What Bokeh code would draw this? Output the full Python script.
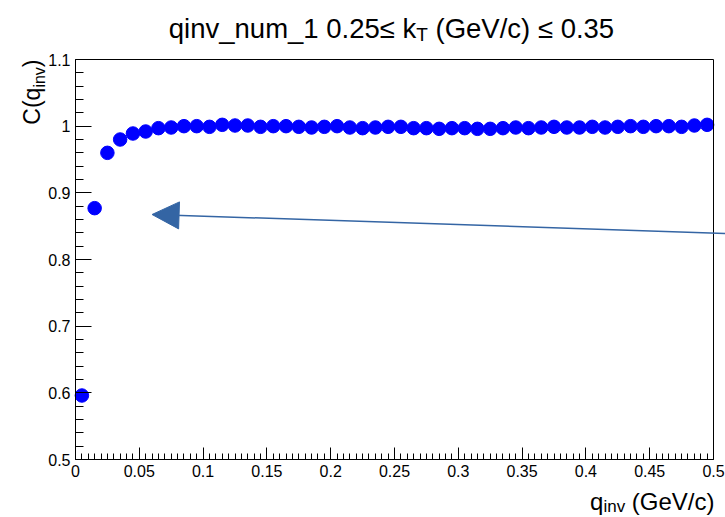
import numpy as np
from bokeh.plotting import figure
from bokeh.models import Label, Arrow, NormalHead, FixedTicker, Range1d, LinearAxis
from bokeh.embed import file_html
from bokeh.resources import INLINE

# ---------------- data ----------------
q_inv = [0.005, 0.015, 0.025, 0.035, 0.045, 0.055, 0.065, 0.075, 0.085, 0.095,
         0.105, 0.115, 0.125, 0.135, 0.145, 0.155, 0.165, 0.175, 0.185, 0.195,
         0.205, 0.215, 0.225, 0.235, 0.245, 0.255, 0.265, 0.275, 0.285, 0.295,
         0.305, 0.315, 0.325, 0.335, 0.345, 0.355, 0.365, 0.375, 0.385, 0.395,
         0.405, 0.415, 0.425, 0.435, 0.445, 0.455, 0.465, 0.475, 0.485, 0.495]
c_q = [0.596, 0.877, 0.960, 0.980, 0.989, 0.992, 0.997, 0.998, 1.000, 1.000,
       0.999, 1.002, 1.001, 1.001, 0.999, 1.000, 1.000, 0.999, 0.998, 0.999,
       1.000, 0.998, 0.997, 0.998, 0.999, 0.999, 0.997, 0.997, 0.996, 0.997,
       0.997, 0.996, 0.996, 0.997, 0.998, 0.997, 0.998, 0.999, 0.998, 0.998,
       0.999, 0.998, 0.999, 1.000, 0.999, 1.000, 1.000, 0.999, 1.001, 1.002]
c_err = [0.006, 0.008, 0.008, 0.008, 0.008, 0.008, 0.008, 0.008, 0.008, 0.008,
         0.008, 0.008, 0.008, 0.008, 0.008, 0.008, 0.008, 0.008, 0.008, 0.008,
         0.008, 0.008, 0.008, 0.008, 0.008, 0.008, 0.008, 0.008, 0.008, 0.008,
         0.008, 0.008, 0.008, 0.008, 0.008, 0.008, 0.008, 0.008, 0.008, 0.008,
         0.008, 0.008, 0.008, 0.008, 0.008, 0.008, 0.008, 0.008, 0.008, 0.008]
bin_half_width = 0.005

x_ticks = [0.0, 0.05, 0.1, 0.15, 0.2, 0.25, 0.3, 0.35, 0.4, 0.45, 0.5]
x_tick_labels = ["0", "0.05", "0.1", "0.15", "0.2", "0.25", "0.3", "0.35", "0.4", "0.45", "0.5"]
y_ticks = [0.5, 0.6, 0.7, 0.8, 0.9, 1.0, 1.1]
y_tick_labels = ["0.5", "0.6", "0.7", "0.8", "0.9", "1", "1.1"]

arrow_start = (0.51, 0.839)
arrow_end = (0.06, 0.8675)

# ---------------- layout helpers ----------------
FONT = "Liberation Sans"
WIDTH, HEIGHT = 725, 517
FRAME_L, FRAME_R, FRAME_T, FRAME_B = 75, 713, 59, 459  # pixel positions of the axes box
X0, X1, Y0, Y1 = 0.0, 0.5, 0.5, 1.1


def fx(px):
    return X0 + (px - FRAME_L) / (FRAME_R - FRAME_L) * (X1 - X0)


def fy(py):
    return Y1 - (py - FRAME_T) / (FRAME_B - FRAME_T) * (Y1 - Y0)


W = {' ': 278, '(': 333, ')': 333, '.': 278, '/': 278, '_': 556, 'C': 722, 'G': 778,
     'T': 611, 'V': 667, 'c': 500, 'e': 556, 'i': 222, 'k': 500, 'm': 833, 'n': 556,
     'q': 556, 'u': 556, 'v': 500, '\u2264': 549}


def tw(s, size):
    return sum(W.get(ch, 556) for ch in s) * size / 1000.0


# the plotting frame covers the whole canvas; axes are placed at fixed data locations
p = figure(width=WIDTH, height=HEIGHT,
           x_range=Range1d(fx(0), fx(WIDTH)), y_range=Range1d(fy(HEIGHT), fy(0)),
           output_backend="svg", toolbar_location=None,
           min_border_left=0, min_border_right=0, min_border_top=0, min_border_bottom=0,
           x_axis_type=None, y_axis_type=None)

p.grid.visible = False
p.outline_line_color = None
p.background_fill_color = "white"
p.border_fill_color = "white"

xaxis = LinearAxis(fixed_location=Y0, bounds=(X0, X1),
                   ticker=FixedTicker(ticks=x_ticks,
                                      minor_ticks=[float(v) for v in np.round(np.arange(0, 0.5001, 0.005), 4)]),
                   major_label_overrides=dict(zip(x_ticks, x_tick_labels)))
yaxis = LinearAxis(fixed_location=X0, bounds=(Y0, Y1),
                   ticker=FixedTicker(ticks=y_ticks,
                                      minor_ticks=[float(v) for v in np.round(np.arange(0.5, 1.1001, 0.02), 4)]),
                   major_label_overrides=dict(zip(y_ticks, y_tick_labels)))
for ax in (xaxis, yaxis):
    ax.axis_line_color = "black"
    ax.major_tick_line_color = "black"
    ax.minor_tick_line_color = "black"
    ax.major_tick_out = 0
    ax.minor_tick_out = 0
    ax.major_label_text_font = FONT
    ax.major_label_text_font_size = "16px"
    ax.major_label_text_color = "black"
    ax.major_label_standoff = 5
xaxis.major_tick_in = 12
xaxis.minor_tick_in = 6
yaxis.major_tick_in = 16
yaxis.minor_tick_in = 8

# plain top / right frame edges
top_edge = LinearAxis(fixed_location=Y1, bounds=(X0, X1), ticker=FixedTicker(ticks=[]),
                      axis_line_color="black", major_tick_in=0, major_tick_out=0,
                      minor_tick_in=0, minor_tick_out=0)
right_edge = LinearAxis(fixed_location=X1, bounds=(Y0, Y1), ticker=FixedTicker(ticks=[]),
                        axis_line_color="black", major_tick_in=0, major_tick_out=0,
                        minor_tick_in=0, minor_tick_out=0)

p.add_layout(xaxis, "below")
p.add_layout(yaxis, "left")
p.add_layout(top_edge, "above")
p.add_layout(right_edge, "right")

# error bars + markers
xs = np.array(q_inv)
ys = np.array(c_q)
es = np.array(c_err)
p.segment(x0=xs, y0=ys - es, x1=xs, y1=ys + es, line_color="blue", line_width=1)
p.segment(x0=xs - bin_half_width, y0=ys, x1=xs + bin_half_width, y1=ys,
          line_color="blue", line_width=1)
p.scatter(x=xs, y=ys, size=13.5, marker="circle", fill_color="blue", line_color="blue")

# arrow annotation
arrow_color = "#3465a4"
p.add_layout(Arrow(end=NormalHead(size=27, fill_color=arrow_color, line_color=arrow_color),
                   x_start=arrow_start[0], y_start=arrow_start[1],
                   x_end=arrow_end[0], y_end=arrow_end[1],
                   line_color=arrow_color, line_width=1.5))


def rich_text(pieces, px, py, angle=0.0):
    """pieces: (text, font size px, baseline shift px downward)"""
    pos = 0.0
    for text, size, shift in pieces:
        stripped = text.lstrip(" ")
        pos += tw(text[:len(text) - len(stripped)], size)
        if angle == 0.0:
            x, y = fx(px + pos), fy(py + shift)
        else:
            x, y = fx(px + shift), fy(py - pos)
        p.add_layout(Label(x=x, y=y, text=stripped, angle=angle,
                           text_font=FONT, text_font_size=f"{size}px",
                           text_color="black", text_align="left",
                           text_baseline="alphabetic"))
        pos += tw(stripped, size)


# title
title_pieces = [("qinv_num_1 0.25\u2264 k", 27.5, 0), ("T", 19, 6), (" (GeV/c) \u2264 0.35", 27.5, 0)]
tot = sum(tw(t, s) for t, s, _ in title_pieces)
rich_text(title_pieces, 391 - tot / 2, 28)

# x axis title (right aligned to frame)
xl_pieces = [("q", 24, 0), ("inv", 17, 5), (" (GeV/c)", 24, 0)]
tot = sum(tw(t, s) for t, s, _ in xl_pieces)
rich_text(xl_pieces, FRAME_R + 1 - tot, 501)

# y axis title (rotated, top aligned to frame)
yl_pieces = [("C(q", 23, 0), ("inv", 16, 8), (")", 23, 0)]
tot = sum(tw(t, s) for t, s, _ in yl_pieces)
rich_text(yl_pieces, 31, FRAME_T + tot, angle=np.pi / 2)

open("out.html", "w").write(file_html(p, INLINE))
